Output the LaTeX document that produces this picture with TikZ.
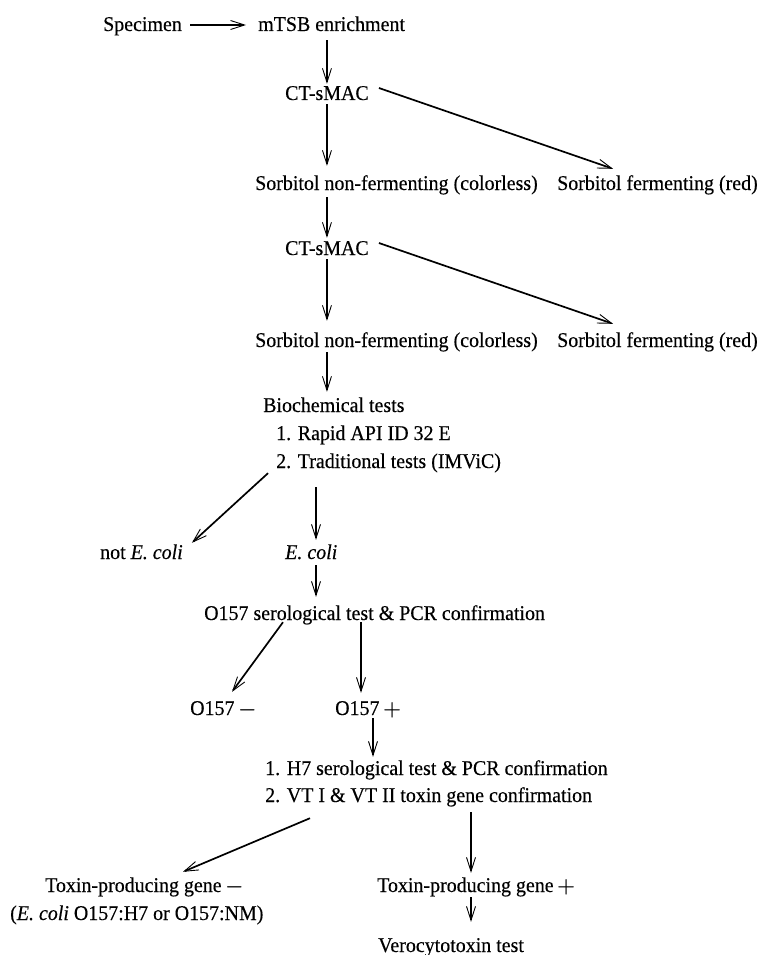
\documentclass[tikz,border=0pt]{standalone}
\usepackage{fontspec}
\setmainfont{Liberation Serif}[FakeStretch=0.95,FakeBold=0.3]
\usetikzlibrary{arrows.meta,calc}
\newcommand{\sgnm}{\,{\boldmath$-$}}
\newcommand{\sgnp}{\,{\boldmath$+$}}
\begin{document}
\begin{tikzpicture}[x=1pt,y=-1pt,
  lbl/.style={inner sep=0pt,anchor=base west,text height=14pt,text depth=4pt,font=\fontsize{21}{27}\selectfont},
  arr/.style={draw,line width=1.1pt,-{Straight Barb[length=14pt,width=9pt,line width=0.9pt]}},
  darr/.style={arr,line width=1.7pt}]
\useasboundingbox[fill=white] (0,0) rectangle (758,955);
\node[lbl] (spec) at (103,31) {Specimen};
\node[lbl] (mtsb) at (258,31) {mTSB enrichment};
\node[lbl] (ct1) at (285,100) {CT-sMAC};
\node[lbl] (snf1) at (255,190) {Sorbitol non-fermenting (colorless)};
\node[lbl] (sf1) at (557,190) {Sorbitol fermenting (red)};
\node[lbl] (ct2) at (285,255) {CT-sMAC};
\node[lbl] (snf2) at (255,347) {Sorbitol non-fermenting (colorless)};
\node[lbl] (sf2) at (557,347) {Sorbitol fermenting (red)};
\node[lbl] (bio) at (263,412) {Biochemical tests};
\node[lbl] (bio1) at (276,440) {1. Rapid API ID 32 E};
\node[lbl] (bio2) at (276,468) {2. Traditional tests (IMViC)};
\node[lbl] (note) at (100,559) {not \textit{E. coli}};
\node[lbl] (ecoli) at (285,559) {\textit{E. coli}};
\node[lbl] (o157) at (204,620) {O157 serological test \& PCR confirmation};
\node[lbl] (om) at (190,715) {O157\sgnm};
\node[lbl] (op) at (335,715) {O157\sgnp};
\node[lbl] (h7a) at (265,775) {1. H7 serological test \& PCR confirmation};
\node[lbl] (h7b) at (265,802) {2. VT I \& VT II toxin gene confirmation};
\node[lbl] (tm) at (45,892) {Toxin-producing gene\sgnm};
\node[lbl] (tmc) at (10,920) {(\textit{E. coli} O157:H7 or O157:NM)};
\node[lbl] (tp) at (377,892) {Toxin-producing gene\sgnp};
\node[lbl] (vero) at (378,952) {Verocytotoxin test};

\draw[arr] ($(spec.east)+(8,-1)$) -- ($(mtsb.west)+(-12,-1)$);
\draw[arr] ($(mtsb.south -| ct1.north)+(0,5)$) -- ($(ct1.north)+(0,-2)$);
\draw[arr] (ct1.south) -- ($(snf1.north -| ct1.south)+(0,-10)$);
\draw[darr] ($(ct1.east)+(10,-7)$) -- ($(sf1.north west)+(56,-7)$);
\draw[arr] ($(snf1.south -| ct1.south)+(0,3)$) -- ($(ct2.north)+(0,-3)$);
\draw[arr] (ct2.south) -- ($(snf2.north -| ct2.south)+(0,-12)$);
\draw[darr] ($(ct2.east)+(10,-7)$) -- ($(sf2.north west)+(56,-9)$);
\draw[arr] ($(snf2.south -| ct2.south)+(0,1)$) -- ($(bio.north -| ct2.south)+(0,-6)$);
\draw[darr] ($(bio2.south west)+(-8,1)$) -- ($(note.north east)+(9,-2)$);
\draw[arr] ($(bio2.south west)+(40,15)$) -- ($(ecoli.north west)+(31,-5)$);
\draw[arr] ($(ecoli.south west)+(31,2)$) -- ($(o157.north west)+(112,-9)$);
\draw[darr] ($(o157.south west)+(79,-2)$) -- ($(om.north west)+(42,-9)$);
\draw[arr] ($(o157.south west)+(157,-2)$) -- ($(op.north west)+(26,-8)$);
\draw[arr] ($(op.south west)+(38,-1)$) -- ($(h7a.north west)+(108,-4)$);
\draw[darr] ($(h7b.south west)+(45,12)$) -- ($(tm.north west)+(138,-6)$);
\draw[arr] ($(h7b.south west)+(206,6)$) -- ($(tp.north west)+(94,-5)$);
\draw[arr] ($(tp.south west)+(94,1)$) -- ($(vero.north west)+(93,-16)$);
\end{tikzpicture}
\end{document}
